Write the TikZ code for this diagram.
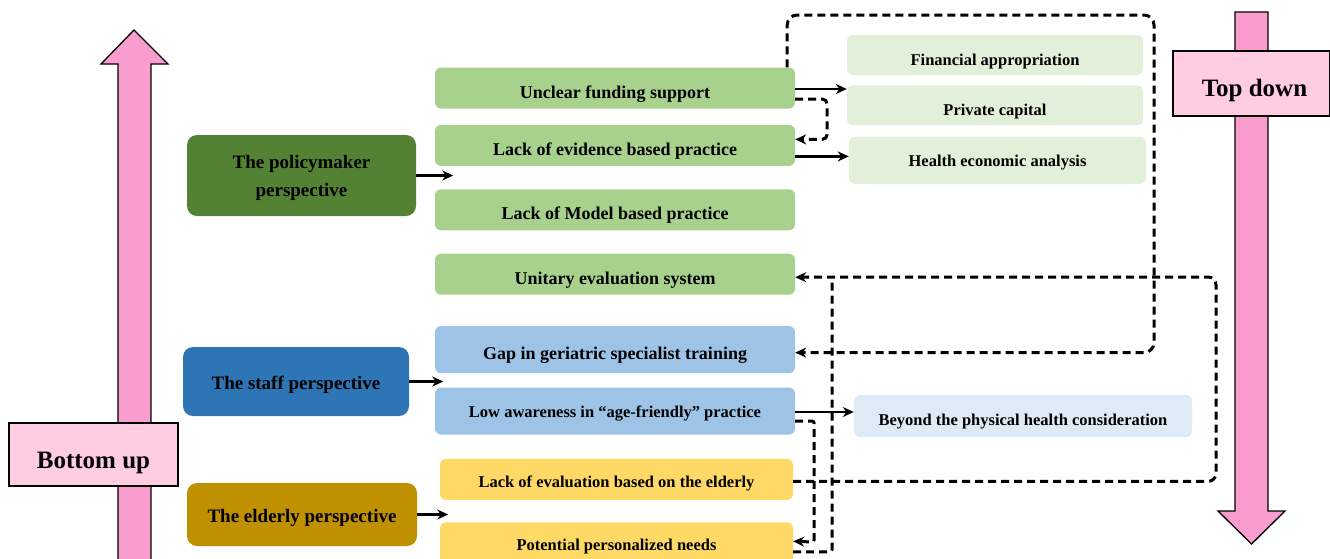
\documentclass[tikz,border=0pt]{standalone}
\usepackage{fontspec}
\setmainfont{Liberation Serif}
\usepackage{tikz}
\usetikzlibrary{arrows.meta,calc,positioning}

\definecolor{pmgreen}{HTML}{548235}
\definecolor{itgreen}{HTML}{A9D18E}
\definecolor{subgreen}{HTML}{E2F0D9}
\definecolor{stblue}{HTML}{2E75B6}
\definecolor{itblue}{HTML}{9DC3E6}
\definecolor{subblue}{HTML}{DEEBF7}
\definecolor{elgold}{HTML}{BF9000}
\definecolor{ityellow}{HTML}{FFD966}
\definecolor{pinkdark}{HTML}{F99CCE}
\definecolor{pinklight}{HTML}{FFCCE1}

\begin{document}
\begin{tikzpicture}[x=1pt,y=1pt,>={Stealth[length=11pt,width=10pt]},
		persp node/.style={rectangle, rounded corners=10pt, align=center, inner sep=0pt, font=\bfseries\fontsize{19}{28}\selectfont},
		item node/.style={rectangle, rounded corners=6pt, minimum width=360pt, minimum height=41pt, inner sep=0pt, text height=20pt, text depth=0pt, font=\bfseries\fontsize{18}{21}\selectfont},
		small item/.style={item node, text height=16pt, font=\bfseries\fontsize{16.5}{20}\selectfont},
		sub node/.style={rectangle, rounded corners=6pt, fill=subgreen, minimum width=296pt, minimum height=40pt, inner sep=0pt, text height=20pt, text depth=0pt, font=\bfseries\fontsize{16.5}{20}\selectfont},
		dir node/.style={rectangle, draw, line width=1.3pt, fill=pinklight, inner sep=0pt, text height=27pt, text depth=0pt, font=\bfseries\fontsize{25}{30}\selectfont},
		big arrow/.style={draw, line width=1.3pt, fill=pinkdark, line join=miter},
		link/.style={->, line width=2.6pt},
		dash link/.style={->, line width=3pt, dash pattern=on 8pt off 5pt, rounded corners=8pt}]

	\useasboundingbox (0,0) rectangle (1330,-558);

	\draw[big arrow] (118,-570) -- (118,-64) -- (101,-64) -- (134,-30) -- (168,-64) -- (151,-64) -- (151,-570);
	\draw[big arrow] (1235,-12) -- (1268,-12) -- (1268,-511) -- (1285,-511) -- (1251.5,-544) -- (1218,-511) -- (1235,-511) -- cycle;
	\node[dir node, minimum width=169pt, minimum height=63pt] (16) at (93.5,-454.5) {Bottom up};
	\node[dir node, minimum width=157pt, minimum height=65pt, text height=26pt] (17) at (1251.5,-83.5) {\hspace*{6pt}Top down};

	\node[persp node, fill=pmgreen, minimum width=229pt, minimum height=81pt] (1) at (301.5,-175.5) {\rule{0pt}{19pt}The policymaker\\perspective};
	\node[persp node, fill=stblue, minimum width=226pt, minimum height=69pt, text height=16pt, text depth=0pt] (10) at (296,-381.5) {The staff perspective};
	\node[persp node, fill=elgold, minimum width=230pt, minimum height=63pt, text height=15pt, text depth=0pt] (11) at (302,-514.5) {The elderly perspective};

	\node[item node, fill=itgreen] (2) at (615,-88) {Unclear funding support};
	\node[item node, fill=itgreen] (3) [below=16pt of 2] {Lack of evidence based practice};
	\node[item node, fill=itgreen] (4) [below=23pt of 3] {Lack of Model based practice};
	\node[item node, fill=itgreen] (5) [below=23pt of 4] {Unitary evaluation system};
	\node[item node, fill=itblue, minimum height=47pt] (6) [below=31pt of 5] {Gap in geriatric specialist training};
	\node[small item, fill=itblue, minimum height=47pt, text height=12pt] (7) [below=14pt of 6] {Low awareness in “age-friendly” practice};
	\node[small item, fill=ityellow, minimum width=353pt, minimum height=41pt] (8) [below=24pt of 7, xshift=1.5pt] {Lack of evaluation based on the elderly};
	\node[small item, fill=ityellow, minimum width=353pt, minimum height=41pt] (9) [below=22pt of 8] {Potential personalized needs};

	\node[sub node] (12) at (995,-55) {Financial appropriation};
	\node[sub node] (13) [below=10pt of 12] {Private capital};
	\node[sub node, minimum width=297pt, minimum height=47pt, text height=13pt] (14) [below=11pt of 13, xshift=2.5pt] {Health economic analysis};
	\node[sub node, fill=subblue, minimum width=338pt, minimum height=42pt, text height=18pt] (15) at (1023,-416) {Beyond the physical health consideration};

	\coordinate[right=37pt of 1] (18);
	\coordinate[right=34pt of 10] (19);
	\coordinate[right=31pt of 11] (20);
	\coordinate (21) at (1154,-15);
	\coordinate (22) at (1216,-277);
	\coordinate (23) at (832,-277);
	\coordinate (24) at (814,-542);

	\path	(1)		edge[link] (18);
	\path	(10)	edge[link] (19);
	\path	(11)	edge[link] (20);
	\path	($(2.east)+(0,-1)$)	edge[link] ($(2.east -| 13.west)+(0,-1)$);
	\path	($(3.east)+(0,-11)$)	edge[link] ($(3.east -| 14.west)+(0,-11)$);
	\path	($(7.east)+(0,-1)$)	edge[link] ($(7.east -| 15.west)+(0,-1)$);

	\draw[dash link, rounded corners=5pt] ($(2.east)+(0,-11)$) -- ++(32,0) |- ($(3.east)+(0,6)$);
	\draw[dash link, rounded corners=10pt] ($(2.north east)+(-8,0)$) |- (21) |- ($(6.east)+(0,-3)$);
	\draw[dash link] ($(8.east)+(0,-2)$) -| (22) -- ($(5.east)+(0,-3)$);
	\draw[dash link, -, rounded corners=2pt] ($(9.east)+(0,-9)$) -| (23);
	\draw[dash link, rounded corners=2pt] ($(7.east)+(0,-10)$) -| (24) -- ($(9.east)+(0,1.5)$);
\end{tikzpicture}
\end{document}
